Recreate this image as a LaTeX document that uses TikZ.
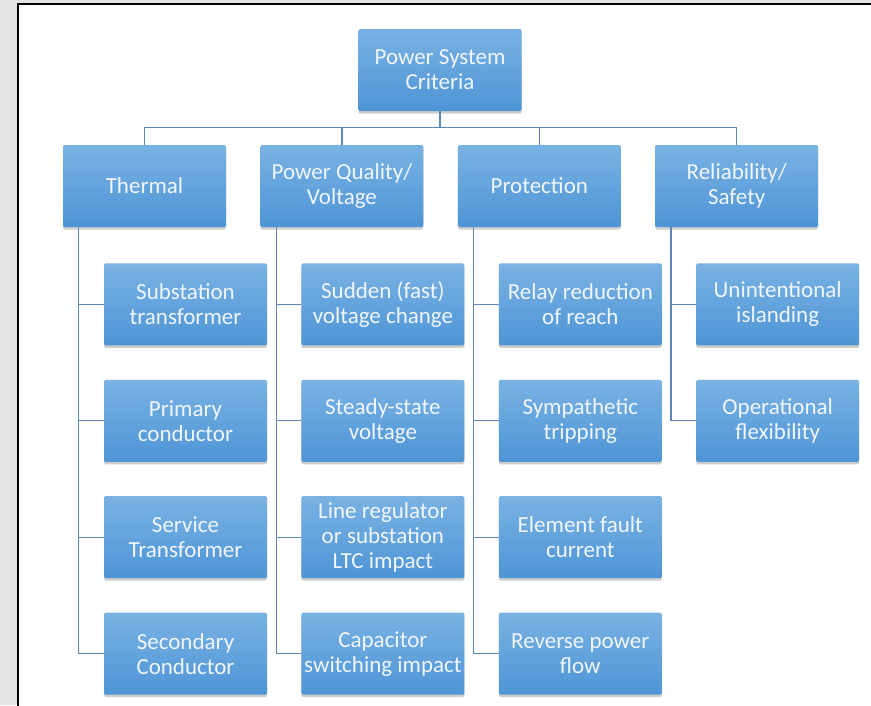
\documentclass[tikz,border=0pt]{standalone}
\usepackage{fontspec}
\setmainfont{Carlito}
\usepackage{tikz}
\usetikzlibrary{positioning,shadows}

\definecolor{boxtop}{RGB}{122,178,227}
\definecolor{boxbot}{RGB}{78,149,214}
\definecolor{linkcol}{RGB}{92,135,184}
\definecolor{boxtext}{RGB}{240,246,252}

\tikzset{
  box/.style={rectangle,rounded corners=1.5pt,minimum width=163pt,minimum height=82pt,
    inner sep=0pt,align=center,top color=boxtop,bottom color=boxbot,text=boxtext,
    font=\fontsize{23}{25}\selectfont,
    drop shadow={shadow xshift=0pt,shadow yshift=-2.5pt,opacity=.28,fill=black!70}},
  link/.style={draw=linkcol,line width=1.2pt}
}

\begin{document}
\begin{tikzpicture}[x=1pt,y=-1pt]
\useasboundingbox (0,0) rectangle (871,705);
\fill[black!11] (0,0) rectangle (871,705);
\draw[fill=white,line width=2pt] (18,4) rectangle (885,720);

\node[box](root) at (440,70){Power System\\Criteria};
\coordinate (bus) at ([yshift=-16pt]root.south);
\draw[link] (root.south) -- (bus);

\node[box](c1) at (144.5,186){Thermal};
\node[box,right=34pt of c1](c2){Power Quality/\\Voltage};
\node[box,right=34pt of c2](c3){Protection};
\node[box,right=34pt of c3](c4){Reliability/\\Safety};
\foreach \i in {1,...,4}
  \draw[link] (bus) -| (c\i.north);

% thermal
\coordinate (th0) at ([xshift=41pt,yshift=-2pt]c1.south);
\foreach \t[count=\i from 0,evaluate=\i as\j using int(\i+1)] in {
  Substation\\transformer,
  Primary\\conductor,
  Service\\Transformer,
  Secondary\\Conductor
}{
\node[box,below=34pt of th\i](th\j){\t};
\draw[link] ([xshift=16pt]c1.south west) |- (th\j.west);
}

% power quality
\coordinate (pq0) at ([xshift=41pt,yshift=-2pt]c2.south);
\foreach \t[count=\i from 0,evaluate=\i as\j using int(\i+1)] in {
  Sudden (fast)\\voltage change,
  Steady-state\\voltage,
  Line regulator\\or substation\\LTC impact,
  Capacitor\\switching impact
}{
\node[box,below=34pt of pq\i](pq\j){\t};
\draw[link] ([xshift=16pt]c2.south west) |- (pq\j.west);
}

% protection
\coordinate (pr0) at ([xshift=41pt,yshift=-2pt]c3.south);
\foreach \t[count=\i from 0,evaluate=\i as\j using int(\i+1)] in {
  Relay reduction\\of reach,
  Sympathetic\\tripping,
  Element fault\\current,
  Reverse power\\flow
}{
\node[box,below=34pt of pr\i](pr\j){\t};
\draw[link] ([xshift=16pt]c3.south west) |- (pr\j.west);
}

% reliability
\coordinate (rs0) at ([xshift=41pt,yshift=-2pt]c4.south);
\foreach \t[count=\i from 0,evaluate=\i as\j using int(\i+1)] in {
  Unintentional\\islanding,
  Operational\\flexibility
}{
\node[box,below=34pt of rs\i](rs\j){\t};
\draw[link] ([xshift=16pt]c4.south west) |- (rs\j.west);
}
\end{tikzpicture}
\end{document}
